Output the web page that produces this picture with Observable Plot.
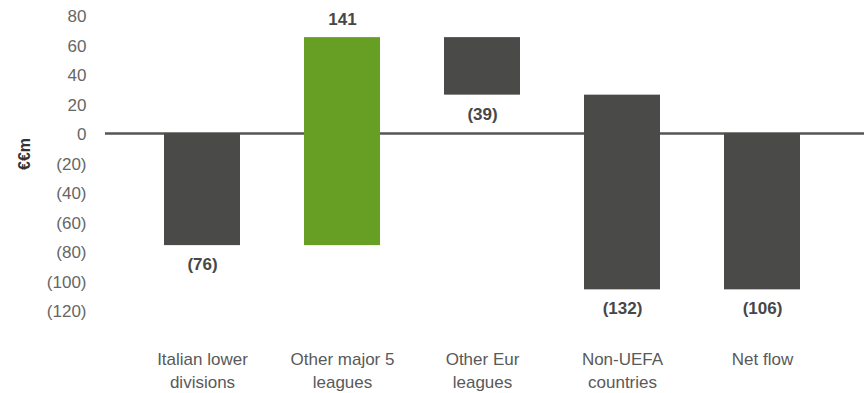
<!DOCTYPE html>
<html>
<head>
<meta charset="utf-8">
<script src="https://cdn.jsdelivr.net/npm/d3@7"></script>
<script src="https://cdn.jsdelivr.net/npm/@observablehq/plot@0.6"></script>
<style>
  html, body { margin: 0; padding: 0; background: #fff; }
  #chart { width: 864px; height: 393px; }
</style>
</head>
<body>
<div id="chart"></div>
<script>
const categories = ["Italian lower divisions", "Other major 5 leagues", "Other Eur leagues", "Non-UEFA countries", "Net flow"];
const tickLabels = ["Italian lower\ndivisions", "Other major 5\nleagues", "Other Eur\nleagues", "Non-UEFA\ncountries", "Net flow"];
const values = [-76, 141, -39, -132, -106];
const isTotal = [false, false, false, false, true];
const valueLabels = ["(76)", "141", "(39)", "(132)", "(106)"];
const yTicks = [80, 60, 40, 20, 0, -20, -40, -60, -80, -100, -120];
const unitLabel = "€€m";

// waterfall table built from the arrays
let running = 0;
const rows = categories.map((c, i) => {
  let y1, y2;
  if (isTotal[i]) { y1 = 0; y2 = values[i]; running = values[i]; }
  else { y1 = running; y2 = running + values[i]; running = y2; }
  return { category: c, y1, y2, value: values[i], label: valueLabels[i], total: isTotal[i],
           end: values[i] >= 0 ? Math.max(y1, y2) : Math.min(y1, y2) };
});
const labelOf = new Map(categories.map((c, i) => [c, tickLabels[i]]));

const GREEN = "#679f25", DARK = "#4a4a49";

const chart = Plot.plot({
  width: 864,
  height: 393,
  marginLeft: 105,
  marginRight: 0,
  marginTop: 15,
  marginBottom: 83,
  style: { fontFamily: "'Liberation Sans', Arial, sans-serif", fontSize: "17px", color: "#595959", background: "#fff" },
  x: { domain: categories, range: [130.75, 833.25], paddingInner: 0.46, paddingOuter: 0.23 },
  y: { domain: [-120, 80] },
  marks: [
    Plot.ruleY([0], { stroke: "#555", strokeWidth: 2.5 }),
    Plot.barY(rows, { x: "category", y1: "y1", y2: "y2", fill: d => d.value > 0 && !d.total ? GREEN : DARK }),
    Plot.text(rows.filter(d => d.value >= 0), { x: "category", y: "end", text: "label", dy: -18,
      fontWeight: "bold", fill: "#474747", fontSize: 17, lineAnchor: "middle" }),
    Plot.text(rows.filter(d => d.value < 0), { x: "category", y: "end", text: "label", dy: 19,
      fontWeight: "bold", fill: "#474747", fontSize: 17, lineAnchor: "middle" }),
    Plot.axisY({ ticks: yTicks, tickSize: 0, tickPadding: 19, label: null,
      tickFormat: d => d < 0 ? `(${-d})` : `${d}`, fill: "#666", fontSize: 17, dy: 1.5 }),
    Plot.axisX({ tickSize: 0, tickPadding: 39, label: null, tickFormat: d => labelOf.get(d),
      lineHeight: 1.32, fill: "#595959", fontSize: 17 }),
    Plot.text([unitLabel], { frameAnchor: "left", text: d => d, rotate: -90, dx: -81, dy: 7,
      fontWeight: "bold", fill: "#333", fontSize: 16 })
  ]
});
document.getElementById("chart").appendChild(chart);
</script>
</body>
</html>
